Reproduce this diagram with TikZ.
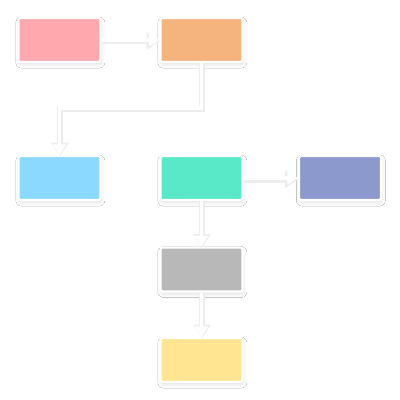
\documentclass[tikz,border=0pt]{standalone}
\usepackage{tikz}
\usepackage{xcolor}
\usetikzlibrary{calc, positioning, arrows.meta, shadows.blur}

\definecolor{boxpink}{HTML}{FFA8AD}
\definecolor{boxorange}{HTML}{F5B47D}
\definecolor{boxblue}{HTML}{8CD9FF}
\definecolor{boxteal}{HTML}{5AE9C8}
\definecolor{boxpurple}{HTML}{8C99CC}
\definecolor{boxgray}{HTML}{B8B8B8}
\definecolor{boxyellow}{HTML}{FFE591}

\tikzset{
  card/.style={draw=white, line width=1.5pt, rounded corners=1.5pt,
    minimum width=2.05cm, minimum height=1.1cm, inner sep=0pt,
    blur shadow={shadow xshift=0.6pt, shadow yshift=-1.8pt,
      shadow blur radius=2.5pt, shadow opacity=12}},
  link/.style={draw=white, line width=2.8pt,
    -{Triangle[width=9pt, length=7.5pt]}},
  linkshade/.style={draw=black!7, line width=4.8pt,
    -{Triangle[width=12pt, length=9.5pt]}}
}

\begin{document}
\begin{tikzpicture}[x=0.025cm, y=-0.025cm]
            \fill[white] (0,0) rectangle (400,400);
            \useasboundingbox (0,0) rectangle (400,400);
            % boxes
            \node[card, fill=boxpink]   (start)  at (59.5,40)  {};
            \node[card, fill=boxorange] (second) at (201.5,40) {};
            \node[card, fill=boxblue]   (third)  at (59.5,178) {};
            \node[card, fill=boxteal]   (hub)    at (201.5,178) {};
            \node[card, fill=boxpurple] (side)   at (340,178)  {};
            \node[card, fill=boxgray]   (lower)  at (201.5,269.5) {};
            \node[card, fill=boxyellow] (last)   at (201.5,360) {};
            \coordinate (bend) at (201.5,108);
            % shadows of the links
            \begin{scope}[transform canvas={xshift=0.4pt, yshift=-0.8pt}]
            \draw[linkshade] (start.east) -- (second.west);
            \draw[linkshade] (second.south) -- (bend) -| (third.north);
            \draw[linkshade] (hub.east) -- (side.west);
            \draw[linkshade] (hub.south) -- (lower.north);
            \draw[linkshade] (lower.south) -- (last.north);
            \end{scope}
            % links
            \draw[link] (start.east) -- (second.west);
            \draw[link] (second.south) -- (bend) -| (third.north);
            \draw[link] (hub.east) -- (side.west);
            \draw[link] (hub.south) -- (lower.north);
            \draw[link] (lower.south) -- (last.north);
        \end{tikzpicture}
\end{document}
